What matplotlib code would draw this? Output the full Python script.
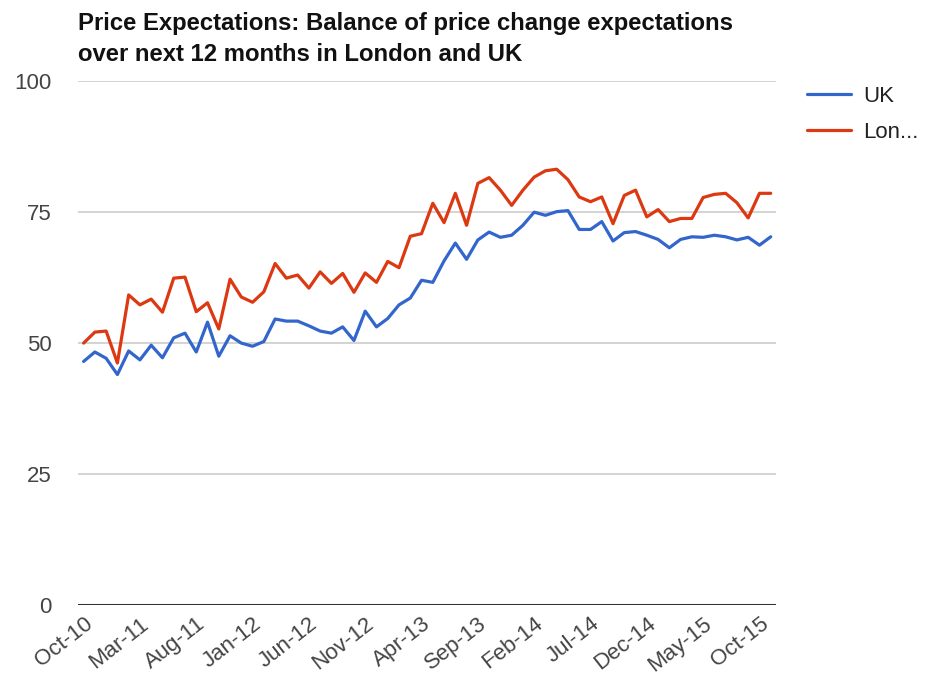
import matplotlib
matplotlib.use("Agg")
import matplotlib.pyplot as plt
import numpy as np


# monthly, Oct-10 .. Nov-15
months = ["Jan", "Feb", "Mar", "Apr", "May", "Jun",
          "Jul", "Aug", "Sep", "Oct", "Nov", "Dec"]
labels = []
m, y = 9, 10
for _ in range(62):
    labels.append(f"{months[m]}-{y:02d}")
    m += 1
    if m == 12:
        m, y = 0, y + 1

uk = [46.5, 48.3, 47.1, 44.0, 48.5, 46.8, 49.6, 47.2, 51.0, 51.9,
      48.3, 54.0, 47.5, 51.4, 50.0, 49.4, 50.3, 54.6, 54.2, 54.2,
      53.3, 52.3, 51.9, 53.1, 50.5, 56.1, 53.1, 54.7, 57.3, 58.6,
      62.0, 61.6, 65.7, 69.1, 66.0, 69.7, 71.2, 70.2, 70.6, 72.5,
      75.0, 74.4, 75.1, 75.3, 71.7, 71.7, 73.2, 69.5, 71.1, 71.3,
      70.6, 69.8, 68.2, 69.8, 70.3, 70.2, 70.6, 70.3, 69.7, 70.2,
      68.7, 70.3]
london = [50.0, 52.1, 52.3, 46.2, 59.2, 57.3, 58.4, 55.9, 62.4, 62.6,
          56.0, 57.7, 52.7, 62.2, 58.8, 57.8, 59.8, 65.2, 62.4, 63.0,
          60.5, 63.6, 61.4, 63.3, 59.7, 63.4, 61.6, 65.6, 64.4, 70.4,
          70.9, 76.7, 73.0, 78.6, 72.5, 80.5, 81.6, 79.2, 76.3, 79.2,
          81.7, 82.9, 83.2, 81.2, 77.9, 77.0, 77.9, 72.8, 78.2, 79.2,
          74.1, 75.5, 73.2, 73.8, 73.8, 77.8, 78.4, 78.6, 76.8, 73.9,
          78.6, 78.6]
y_ticks = [0, 25, 50, 75, 100]

plt.rcParams["font.family"] = ["Liberation Sans", "DejaVu Sans"]

fig = plt.figure(figsize=(9.25, 6.77), dpi=100)
ax = fig.add_axes([0.0843, 0.1064, 0.755, 0.7736])

x = np.arange(len(labels))
ax.plot(x, uk, color="#3366CC", lw=2.3, label="UK", solid_capstyle="round")
ax.plot(x, london, color="#DC3912", lw=2.3, label="Lon...", solid_capstyle="round")

ax.set_xlim(-0.5, len(labels) - 0.5)
ax.set_ylim(0, 100)
ax.set_yticks(y_ticks)
ax.set_yticklabels([str(v) for v in y_ticks])
for v in y_ticks[1:]:
    ax.axhline(v, color="#cccccc", lw=1.2, zorder=0)
ax.axhline(0, color="#333333", lw=2.2, zorder=3)

ax.set_xticks(x[::5])
ax.set_xticklabels(labels[::5], rotation=38, ha="right", rotation_mode="anchor")

for s in ax.spines.values():
    s.set_visible(False)
ax.tick_params(axis="both", length=0, labelsize=16, colors="#444444")
ax.tick_params(axis="y", pad=19)
ax.tick_params(axis="x", pad=6)

ax.legend(loc="upper left", bbox_to_anchor=(1.015, 1.03), frameon=False,
          fontsize=16, handlelength=2.0, handletextpad=0.55, labelspacing=0.7,
          labelcolor="#222222")

fig.text(0.0843, 0.983, "Price Expectations: Balance of price change expectations\n"
         "over next 12 months in London and UK", fontsize=17.2, fontweight="bold",
         va="top", ha="left", color="#111111", linespacing=1.45)

fig.savefig("out.png", dpi=100)
